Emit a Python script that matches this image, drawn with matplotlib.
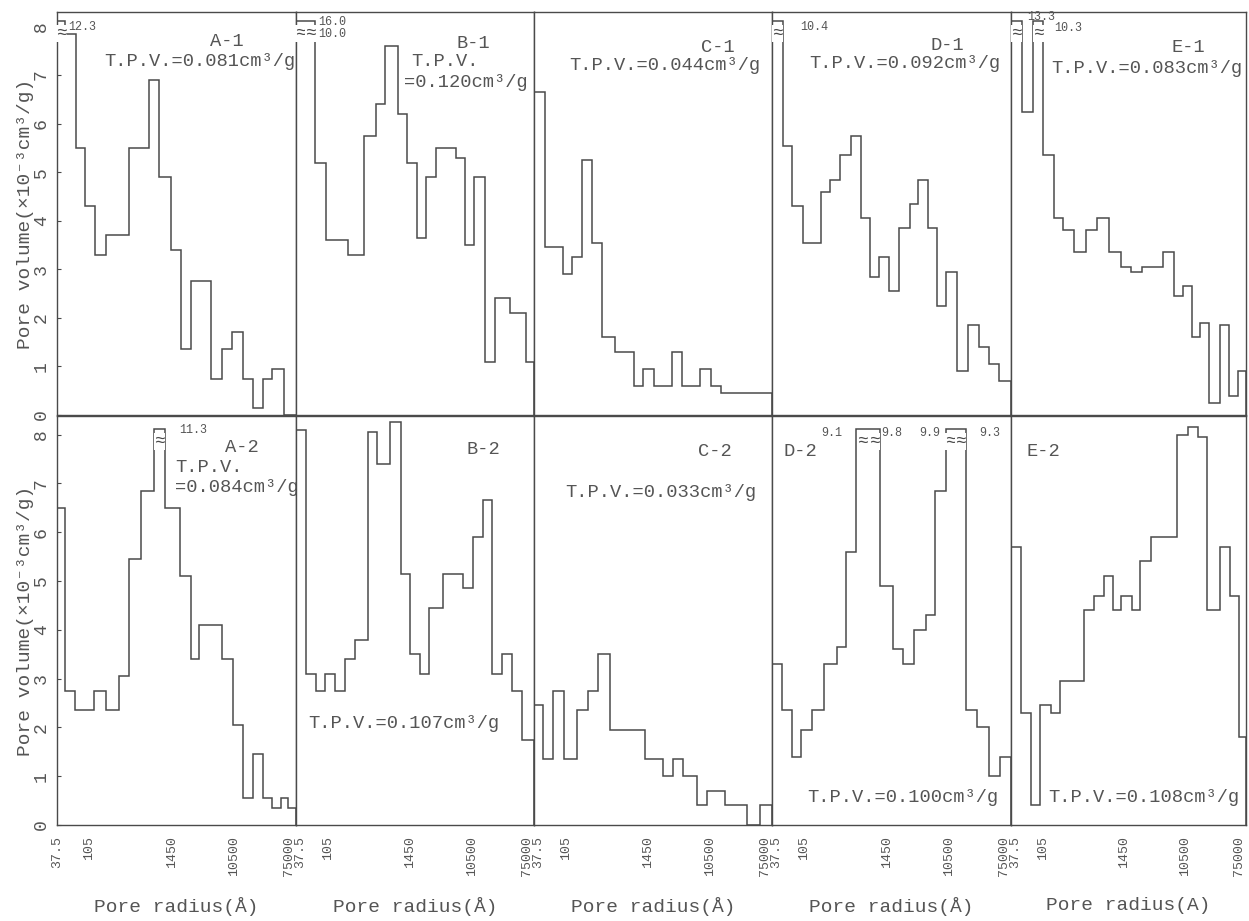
import numpy as np
import matplotlib
matplotlib.use("Agg")
import matplotlib.pyplot as plt
from matplotlib.ticker import NullLocator
from matplotlib.transforms import ScaledTranslation

plt.rcParams['font.family'] = ['Liberation Mono', 'DejaVu Sans Mono']

INK = '#4a4a4a'
TXT = '#555555'

# bin edges are log10(pore radius / A); volumes in 1e-3 cm3/g
a1_edges = [1.574, 1.690, 1.830, 1.960, 2.099, 2.257, 2.564, 2.839, 2.983, 3.155, 3.285,
            3.420, 3.703, 3.852, 3.991, 4.145, 4.280, 4.419, 4.549, 4.712, 4.875]
a1_vol = [12.3, 7.85, 5.5, 4.3, 3.3, 3.7, 5.5, 6.9, 4.9, 3.4, 1.35, 2.75, 0.75, 1.35,
          1.7, 0.75, 0.15, 0.75, 0.95, 0.0]

b1_edges = [1.574, 1.709, 1.840, 1.990, 2.293, 2.517, 2.681, 2.811, 2.984, 3.115, 3.255,
            3.381, 3.521, 3.787, 3.918, 4.049, 4.189, 4.338, 4.548, 4.758, 4.875]
b1_vol = [16.0, 10.0, 5.2, 3.6, 3.3, 5.75, 6.4, 7.6, 6.2, 5.2, 3.65, 4.9, 5.5, 5.3, 3.5,
          4.9, 1.1, 2.4, 2.1, 1.1]

c1_edges = [1.574, 1.726, 1.980, 2.105, 2.243, 2.382, 2.511, 2.696, 2.959, 3.088, 3.236,
            3.495, 3.633, 3.883, 4.035, 4.173, 4.875]
c1_vol = [6.65, 3.45, 2.9, 3.25, 5.25, 3.55, 1.6, 1.3, 0.6, 0.95, 0.6, 1.3, 0.6, 0.95,
          0.6, 0.45]

d1_edges = [1.574, 1.727, 1.852, 2.005, 2.250, 2.375, 2.514, 2.667, 2.806, 2.921, 3.046,
            3.185, 3.333, 3.486, 3.593, 3.727, 3.857, 3.982, 4.125, 4.287, 4.435, 4.574,
            4.704, 4.875]
d1_vol = [10.4, 5.55, 4.3, 3.55, 4.6, 4.85, 5.35, 5.75, 4.05, 2.85, 3.25, 2.55, 3.85,
          4.35, 4.85, 3.85, 2.25, 2.95, 0.9, 1.85, 1.4, 1.05, 0.7]

e1_edges = [1.574, 1.724, 1.889, 2.030, 2.176, 2.303, 2.453, 2.632, 2.787, 2.947, 3.116,
            3.257, 3.417, 3.713, 3.869, 3.996, 4.113, 4.231, 4.358, 4.513, 4.630, 4.762,
            4.875]
e1_vol = [13.3, 6.25, 10.3, 5.35, 4.05, 3.8, 3.35, 3.8, 4.05, 3.35, 3.05, 2.95, 3.05,
          3.35, 2.45, 2.65, 1.6, 1.9, 0.25, 1.85, 0.4, 0.9]

a2_edges = [1.574, 1.690, 1.820, 2.085, 2.248, 2.425, 2.574, 2.736, 2.913, 3.071, 3.271,
            3.420, 3.541, 3.852, 4.005, 4.140, 4.280, 4.419, 4.549, 4.666, 4.768, 4.875]
a2_vol = [6.5, 2.75, 2.35, 2.75, 2.35, 3.05, 5.45, 6.85, 11.3, 6.5, 5.1, 3.4, 4.1, 3.4,
          2.05, 0.55, 1.45, 0.55, 0.35, 0.55, 0.35]

b2_edges = [1.574, 1.709, 1.849, 1.979, 2.109, 2.258, 2.398, 2.570, 2.701, 2.873, 3.027,
            3.157, 3.297, 3.422, 3.609, 3.888, 4.028, 4.167, 4.298, 4.433, 4.563, 4.703,
            4.875]
b2_vol = [8.1, 3.1, 2.75, 3.1, 2.75, 3.4, 3.8, 8.05, 7.4, 8.25, 5.15, 3.5, 3.1, 4.45,
          5.15, 4.85, 5.9, 6.65, 3.1, 3.5, 2.75, 1.75]

c2_edges = [1.574, 1.704, 1.843, 1.995, 2.167, 2.319, 2.458, 2.630, 3.116, 3.370, 3.500,
            3.639, 3.833, 3.972, 4.227, 4.528, 4.704, 4.875]
c2_vol = [2.45, 1.35, 2.75, 1.35, 2.35, 2.75, 3.5, 1.95, 1.35, 1.0, 1.35, 1.0, 0.4, 0.7,
          0.4, 0.0, 0.4]

d2_edges = [1.574, 1.713, 1.852, 1.972, 2.120, 2.296, 2.468, 2.597, 2.732, 2.907, 3.069,
            3.241, 3.380, 3.532, 3.704, 3.820, 3.972, 4.111, 4.250, 4.412, 4.574, 4.722,
            4.875]
d2_vol = [3.3, 2.35, 1.4, 1.95, 2.35, 3.3, 3.65, 5.6, 9.1, 9.8, 4.9, 3.6, 3.3, 4.0, 4.3,
          6.85, 9.9, 9.3, 2.35, 2.0, 1.0, 1.4]

e2_edges = [1.574, 1.715, 1.856, 1.988, 2.129, 2.256, 2.599, 2.740, 2.881, 3.008, 3.126,
            3.267, 3.384, 3.539, 3.911, 4.057, 4.198, 4.325, 4.503, 4.654, 4.771, 4.875]
e2_vol = [5.7, 2.3, 0.4, 2.45, 2.3, 2.95, 4.4, 4.7, 5.1, 4.4, 4.7, 4.4, 5.4, 5.9, 8.0,
          8.15, 7.95, 4.4, 5.7, 4.7, 1.8]

samples = ['A-1', 'B-1', 'C-1', 'D-1', 'E-1', 'A-2', 'B-2', 'C-2', 'D-2', 'E-2']
tpv = ['0.081', '0.120', '0.044', '0.092', '0.083', '0.084', '0.107', '0.033', '0.100', '0.108']

x_ticks = [37.5, 105, 1450, 10500, 75000]
x_ticklabels = ['37.5', '105', '1450', '10500', '75000']
y_ticks = [0, 1, 2, 3, 4, 5, 6, 7, 8]

edges_all = [a1_edges, b1_edges, c1_edges, d1_edges, e1_edges,
             a2_edges, b2_edges, c2_edges, d2_edges, e2_edges]
vol_all = [a1_vol, b1_vol, c1_vol, d1_vol, e1_vol,
           a2_vol, b2_vol, c2_vol, d2_vol, e2_vol]

# text placement (axes fraction): name, TPV lines
text_pos = {
    'A-1': [('A-1', 0.711, 0.926, 'center'), ('T.P.V.=0.081cm³/g', 0.997, 0.876, 'right')],
    'B-1': [('B-1', 0.744, 0.923, 'center'), ('T.P.V.', 0.626, 0.876, 'center'),
            ('=0.120cm³/g', 0.975, 0.826, 'right')],
    'C-1': [('C-1', 0.773, 0.913, 'center'), ('T.P.V.=0.044cm³/g', 0.95, 0.868, 'right')],
    'D-1': [('D-1', 0.735, 0.918, 'center'), ('T.P.V.=0.092cm³/g', 0.958, 0.871, 'right')],
    'E-1': [('E-1', 0.753, 0.913, 'center'), ('T.P.V.=0.083cm³/g', 0.983, 0.861, 'right')],
    'A-2': [('A-2', 0.774, 0.924, 'center'), ('T.P.V.', 0.494, 0.873, 'left'),
            ('=0.084cm³/g', 0.494, 0.824, 'left')],
    'B-2': [('B-2', 0.786, 0.917, 'center'), ('T.P.V.=0.107cm³/g', 0.05, 0.249, 'left')],
    'C-2': [('C-2', 0.761, 0.912, 'center'), ('T.P.V.=0.033cm³/g', 0.13, 0.814, 'left')],
    'D-2': [('D-2', 0.118, 0.912, 'center'), ('T.P.V.=0.100cm³/g', 0.147, 0.068, 'left')],
    'E-2': [('E-2', 0.136, 0.912, 'center'), ('T.P.V.=0.108cm³/g', 0.157, 0.068, 'left')],
}

# off-scale bars: (bin, anchor edge, ha, dx points, y)
break_labels = {
    'A-1': [(0, 1, 'left', 2, 8.0)],
    'B-1': [(0, 2, 'left', 2, 8.1), (1, 2, 'left', 2, 7.85)],
    'D-1': [(0, 1, 'left', 12, 8.0)],
    'E-1': [(0, 1, 'left', 4, 8.2), (2, 3, 'left', 8, 7.98)],
    'A-2': [(8, 9, 'left', 10, 8.1)],
    'D-2': [(8, 8, 'right', -10, 8.03), (9, 10, 'left', 1, 8.03),
            (16, 16, 'right', -4, 8.03), (17, 18, 'left', 10, 8.03)],
}

W, H = 1249, 921
col_left = [57, 296, 534, 772, 1011]
col_right = [296, 534, 772, 1011, 1246]
row_top = [12, 416]
row_bot = [415, 825]
row_ymax = [8.3, 8.38]
cap = 8.12

fig = plt.figure(figsize=(W / 100, H / 100), dpi=100)

for k, name in enumerate(samples):
    r, c = divmod(k, 5)
    ax = fig.add_axes([col_left[c] / W, 1 - row_bot[r] / H,
                       (col_right[c] - col_left[c]) / W, (row_bot[r] - row_top[r]) / H])
    edges = 10 ** np.array(edges_all[k])
    vol = np.array(vol_all[k])
    shown = np.where(vol > 8.5, cap, vol)
    ax.stairs(shown, edges, baseline=0, color=INK, lw=1.1)

    ax.set_xscale('log')
    ax.set_xlim(37.5, 75000)
    ax.set_ylim(0, row_ymax[r])
    ax.xaxis.set_minor_locator(NullLocator())
    for sp in ax.spines.values():
        sp.set_color(INK)
        sp.set_linewidth(1.0)

    # break marks and real values for bars off the scale
    for b in np.where(vol > 8.5)[0]:
        xc = np.sqrt(edges[b] * edges[b + 1])
        ax.text(xc, 7.85, '≈', ha='center', va='center', fontsize=13, color=INK,
                bbox=dict(fc='white', ec='none', pad=0))
    for b, ei, ha, dx, yv in break_labels.get(name, []):
        ax.annotate(f'{vol[b]:.1f}', (edges[ei], yv), xytext=(dx, 0),
                    textcoords='offset points', ha=ha, va='center',
                    fontsize=8.5, color=TXT)

    for s, tx, ty, ha in text_pos[name]:
        ax.text(tx, ty, s, transform=ax.transAxes, ha=ha, va='center',
                fontsize=13.5, color=TXT)

    if c == 0:
        ax.set_yticks(y_ticks)
        ax.set_yticklabels([str(v) for v in y_ticks], rotation=90, va='center')
        ax.tick_params(axis='y', labelsize=13, labelcolor=TXT, colors=INK,
                       direction='in', length=3, pad=5)
        ax.set_ylabel('Pore volume(×10⁻³cm³/g)', fontsize=14, color=TXT)
        ax.yaxis.set_label_coords(-0.095, 0.5)
    else:
        ax.set_yticks([])

    if r == 1:
        ax.set_xticks(x_ticks)
        ax.set_xticklabels(x_ticklabels, rotation=90)
        ax.tick_params(axis='x', labelsize=9.5, labelcolor=TXT, length=0, pad=8)
        # keep the end labels of neighbouring panels side by side
        for lab in ax.get_xticklabels():
            if lab.get_text() == '75000':
                shift = ScaledTranslation(-5 / 72, 0, fig.dpi_scale_trans)
                lab.set_transform(lab.get_transform() + shift)
            elif lab.get_text() == '37.5' and c > 0:
                shift = ScaledTranslation(3 / 72, 0, fig.dpi_scale_trans)
                lab.set_transform(lab.get_transform() + shift)
        ax.set_xlabel('Pore radius(A)' if c == 4 else 'Pore radius(Å)',
                      fontsize=14, color=TXT)
        ax.xaxis.set_label_coords(0.5, -0.176)
    else:
        ax.set_xticks([])

fig.savefig('out.png', dpi=100, facecolor='white')
